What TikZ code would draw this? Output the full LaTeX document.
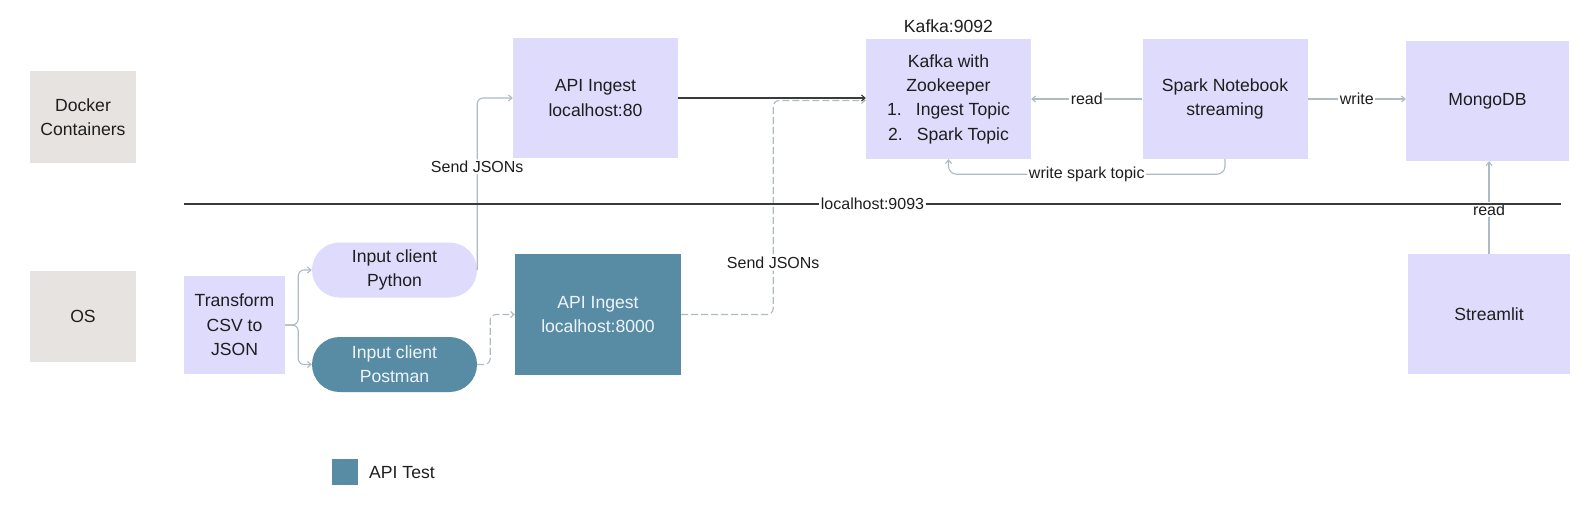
\documentclass[tikz,border=0pt]{standalone}
\usepackage{fontspec}
\setmainfont{Liberation Sans}
\usetikzlibrary{arrows.meta,calc}
\definecolor{lav}{HTML}{DFDBFC}
\definecolor{grayb}{HTML}{E7E3E1}
\definecolor{tealb}{HTML}{578CA4}
\definecolor{connc}{HTML}{AEBBC4}
\definecolor{darkc}{HTML}{3A3A3A}
\definecolor{txtc}{HTML}{1E1E1E}
\definecolor{lighttxt}{HTML}{F0F4F8}
\newcommand\myNodeFont{\fontsize{17.6}{24.3}\selectfont}
\newcommand\myLblFont{\fontsize{16}{19}\selectfont}
\tikzset{
  basebox/.style={draw=none, minimum width=165pt, minimum height=120pt, align=center, inner sep=2pt, font=\myNodeFont, text=txtc},
  lavbox/.style={basebox, fill=lav},
  graybox/.style={basebox, fill=grayb},
  tealbox/.style={basebox, fill=tealb, text=lighttxt},
  pill/.style={basebox, minimum width=165pt, minimum height=55pt, rounded corners=27.5pt},
  conn/.style={draw=connc, line width=1.1pt, -{Straight Barb[length=3.5pt,width=6pt]}},
  dconn/.style={conn, dash pattern=on 7pt off 3pt},
  darkarrow/.style={draw=darkc, line width=1.1pt, -{Straight Barb[length=3.5pt,width=6pt]}},
  divider/.style={draw=darkc, line width=1.3pt},
  lbl/.style={fill=white, inner sep=1.5pt, font=\myLblFont, text=txtc},
}
\begin{document}
\begin{tikzpicture}[x=1pt,y=-1pt]
\fill[white] (0,0) rectangle (1585,507);
\useasboundingbox (0,0) rectangle (1585,507);

\node[graybox, minimum width=106pt, minimum height=92pt] (docker) at (83,117) {Docker\\Containers};
\node[graybox, minimum width=106pt, minimum height=91pt] (os) at (83,316.5) {OS};
\node[lavbox, minimum width=101pt, minimum height=98pt] (transform) at (234.5,325) {Transform\\CSV to\\JSON};
\node[pill, fill=lav] (python) at (394.5,270) {Input client\\Python};
\node[pill, fill=tealb, text=lighttxt] (postman) at (394.5,364.5) {Input client\\Postman};
\node[tealbox, minimum width=166pt, minimum height=121pt] (api8000) at (598,314.5) {API Ingest\\localhost:8000};
\node[lavbox] (api80) at (595.5,98) {API Ingest\\localhost:80};
\node[lavbox] (kafka) at (948.5,99) {Kafka with\\Zookeeper\\1.\hspace{14pt}Ingest Topic\\2.\hspace{14pt}Spark Topic};
\node[font=\myNodeFont, text=txtc, inner sep=0pt] (kport) at (948.5,26) {Kafka:9092};
\node[lavbox] (spark) at (1225,99) {Spark Notebook\\streaming};
\node[lavbox, minimum width=163pt] (mongo) at (1487.5,101) {MongoDB};
\node[lavbox, minimum width=162pt] (streamlit) at (1489,314) {Streamlit};

\node[fill=tealb, minimum size=26pt, inner sep=0pt] (legsq) at (345,472) {};
\node[anchor=west, font=\myNodeFont, text=txtc, inner sep=0pt] (legtxt) at (369,473) {API Test};

% connectors
\draw[conn, rounded corners=6pt] (transform.east) -- ++(13,0) |- (python.west);
\draw[conn, rounded corners=6pt] (transform.east) -- ++(13,0) |- (postman.west);
\draw[conn, rounded corners=6pt] (python.east) |- node[lbl, pos=0.3]{Send JSONs} (api80.west);
\draw[dconn, rounded corners=6pt] (postman.east) -- ++(13,0) |- (api8000.west);
\draw[dconn, rounded corners=6pt] (api8000.east) -- ++(92,0) |- node[lbl, pos=0.12]{Send JSONs} ([yshift=-1.5pt]kafka.west);
\draw[darkarrow] (api80.east) -- (api80.east -| kafka.west);
\draw[conn] (spark.west) -- node[lbl]{read} (spark.west -| kafka.east);
\draw[conn, rounded corners=8pt] (spark.south) -- ++(0,15) -| node[lbl, pos=0.25]{write spark topic} (kafka.south);
\draw[conn] (spark.east) -- node[lbl]{write} (spark.east -| mongo.west);
\draw[conn] (streamlit.north) -- node[lbl, pos=0.48]{read} (streamlit.north |- mongo.south);

% divider
\coordinate (divL) at (184,204);
\coordinate (divR) at (1561,204);
\draw[divider] (divL) -- node[lbl]{localhost:9093} (divR);
\end{tikzpicture}
\end{document}
